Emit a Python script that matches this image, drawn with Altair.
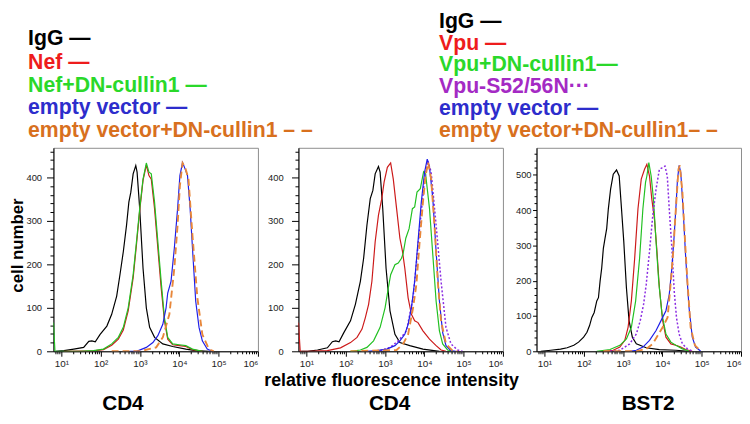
import altair as alt
import pandas as pd

# ---------------- data (intensity, cell number) ----------------
# Panel 1 : CD4 / Nef
p1_igg_x = [7.2, 11.7, 20.8, 37, 50, 60, 73, 97, 144, 191, 256, 310, 377, 456, 522, 586, 671, 783, 845, 986, 1197, 1452, 1762, 2350, 3811, 6792, 14690, 26180, 56620]
p1_igg_y = [0, 1.5, 5, 9, 23, 24, 22, 39, 58, 85, 127, 176, 229, 290, 343, 366, 408, 427, 412, 328, 191, 100, 55, 32, 17, 11, 5, 1.5, 0]
p1_nef_x = [11.7, 66, 118, 191, 282, 377, 502, 671, 815, 986, 1197, 1452, 1694, 1941, 2350, 2851, 3459, 4198, 5082, 6792, 10000, 14690, 21630, 38550]
p1_nef_y = [0, 1, 4, 14, 28, 49, 93, 169, 245, 324, 393, 428, 404, 396, 328, 237, 146, 70, 28, 15, 13, 11, 4, 0]
p1_nefdn_x = [6.31, 6.9, 11.7, 30.7, 66, 118, 191, 282, 377, 502, 671, 815, 986, 1197, 1452, 1694, 1941, 2350, 2851, 3459, 4198, 5082, 6792, 10000, 14690, 21630, 38550]
p1_nefdn_y = [66, 0, 0, 0, 1.5, 5, 17, 32, 55, 100, 176, 252, 328, 396, 433, 412, 408, 343, 252, 161, 77, 32, 17, 15, 13, 5, 0]
p1_ev_x = [553, 815, 1452, 2134, 2851, 3811, 4613, 5082, 6166, 7482, 9057, 10370, 12110, 14130, 16180, 18880, 22440, 26180, 31770, 38550, 51400, 68710]
p1_ev_y = [0, 0, 9, 20, 36, 62, 100, 134, 161, 237, 328, 404, 434, 419, 404, 328, 214, 115, 55, 24, 5, 0]
p1_evdn_x = [191, 986, 2588, 3811, 5598, 7482, 9057, 10370, 12110, 14130, 17140, 21630, 28840, 38550, 56620, 75680]
p1_evdn_y = [0, 0, 9, 32, 85, 191, 290, 381, 433, 423, 396, 267, 123, 39, 5, 0]

# Panel 2 : CD4 / Vpu
p2_igg_x = [7.4, 10.8, 19.3, 34.4, 46, 56, 68, 90, 133, 177, 237, 287, 348, 423, 493, 564, 684, 753, 879, 1067, 1343, 1795, 2399, 4276, 9247, 24270]
p2_igg_y = [0, 0, 3, 8, 22, 24, 22, 43, 70, 108, 161, 214, 290, 351, 370, 408, 425, 412, 328, 191, 93, 39, 20, 13, 5, 0]
p2_vpu_x = [6.31, 7.0, 10.8, 34.4, 74, 133, 195, 261, 316, 384, 466, 564, 684, 830, 951, 1151, 1396, 1629, 1977, 2399, 2799, 3199, 3882, 4710, 5702, 6918, 9247, 13580, 20000, 26730, 35650]
p2_vpu_y = [66, 0, 0, 1.5, 8, 20, 32, 51, 77, 108, 161, 252, 313, 351, 389, 423, 433, 396, 328, 260, 229, 191, 123, 85, 70, 66, 47, 28, 13, 3, 0]
p2_vpudn_x = [133, 237, 348, 513, 753, 1007, 1219, 1396, 1795, 2178, 2636, 2904, 3388, 4111, 4989, 5702, 6531, 7925, 9616, 10790, 13580, 16480, 20000, 24270, 29380, 39270, 52480]
p2_vpudn_y = [0, 3, 9, 24, 55, 100, 146, 176, 199, 203, 214, 225, 260, 282, 328, 332, 366, 374, 413, 408, 328, 222, 115, 47, 17, 3, 0]
p2_mut_x = [753, 1343, 2178, 3524, 5188, 7621, 10180, 12360, 14960, 20000, 26730, 35650, 47640, 69980, 93540]
p2_mut_y = [1.5, 9, 24, 47, 123, 282, 396, 438, 412, 290, 161, 55, 17, 3, 0]
p2_ev_x = [348, 621, 1109, 1795, 2399, 3199, 3882, 4710, 5702, 6918, 8395, 10180, 11890, 13580, 16480, 20000, 24270, 29380, 35650, 47640, 63530]
p2_ev_y = [0, 1.5, 5, 13, 24, 39, 62, 100, 161, 252, 343, 412, 442, 423, 351, 229, 115, 43, 13, 1.5, 0]
p2_evdn_x = [133, 1977, 2904, 3882, 5188, 6281, 7621, 9247, 10790, 12590, 14960, 18160, 22030, 26730, 35650, 52480, 69980]
p2_evdn_y = [0, 3, 17, 39, 100, 153, 252, 343, 404, 434, 396, 290, 161, 70, 17, 1.5, 0]

# Panel 3 : BST2 / Vpu
p3_igg_x = [8.1, 14.5, 25.8, 37.9, 56, 74, 99.5, 121, 141, 161, 185, 215, 237, 261, 287, 316, 348, 384, 423, 483, 564, 684, 798, 914, 1045, 1219, 1422, 1726, 2178, 3882, 8395, 22030, 47640]
p3_igg_y = [0, 3, 6, 10, 17, 26, 40, 54, 73, 96, 110, 143, 152, 199, 236, 292, 320, 348, 404, 460, 502, 514, 497, 404, 311, 180, 87, 40, 21, 10, 5, 3, 0]
p3_vpu_x = [316, 564, 830, 1109, 1343, 1629, 1977, 2399, 2904, 3524, 4036, 4710, 5383, 6281, 7194, 8395, 10180, 12330, 16480, 22030, 29380, 39270, 57680]
p3_vpu_y = [0, 3, 12, 31, 68, 143, 264, 404, 488, 516, 530, 497, 432, 376, 292, 180, 87, 40, 21, 17, 12, 5, 0]
p3_vpudn_x = [215, 466, 830, 1219, 1629, 2094, 2636, 3199, 3733, 4036, 4529, 5188, 5929, 6918, 8072, 9795, 12330, 16480, 22030, 32360, 47640]
p3_vpudn_y = [0, 5, 17, 35, 68, 143, 264, 404, 479, 497, 535, 497, 432, 311, 199, 105, 49, 26, 17, 7, 1]
p3_mut_x = [466, 830, 1479, 2178, 2742, 3327, 3882, 4710, 5702, 6918, 8395, 9795, 11640, 13340, 14960, 17460, 20000, 22860, 26670, 32360, 43250, 57680]
p3_mut_y = [0, 3, 21, 49, 87, 133, 189, 283, 385, 460, 516, 520, 525, 497, 404, 292, 171, 96, 49, 21, 7, 1]
p3_ev_x = [1479, 2178, 3199, 4710, 6918, 9247, 12330, 14960, 17460, 20000, 22030, 24270, 26730, 29380, 33650, 39270, 47640, 57680, 69980, 93540]
p3_ev_y = [0, 3, 12, 31, 59, 87, 115, 161, 236, 329, 404, 488, 527, 507, 404, 264, 124, 40, 12, 1]
p3_evdn_x = [316, 2178, 3882, 5702, 7621, 10180, 13580, 16480, 18880, 22030, 25700, 27730, 32360, 37760, 43250, 52360, 67300, 93540]
p3_evdn_y = [0, 0, 7, 21, 45, 68, 96, 199, 283, 404, 516, 527, 451, 311, 199, 68, 17, 1]

# axis ticks / labels
x_major = [10, 100, 1000, 10000, 100000, 1000000]
x_major_labels = ["10\u00b9", "10\u00b2", "10\u00b3", "10\u2074", "10\u2075", "10\u2076"]
x_minor_mult = [2, 3, 4, 5, 6, 7, 8, 9]
y_ticks_12 = list(range(0, 461, 20))
y_ticks_3 = list(range(0, 561, 20))

# legend / title texts
legend1 = ["IgG \u2014", "Nef \u2014", "Nef+DN-cullin1 \u2014", "empty vector \u2014", "empty vector+DN-cullin1 \u2013 \u2013"]
legend2 = ["IgG \u2014", "Vpu \u2014", "Vpu+DN-cullin1\u2014", "Vpu-S52/56N\u00b7\u00b7\u00b7", "empty vector \u2014", "empty vector+DN-cullin1\u2013 \u2013"]
panel_titles = ["CD4", "CD4", "BST2"]
x_title = "relative fluorescence intensity"
y_title = "cell number"

# ---------------- styles ----------------
FONT = "Liberation Sans"
LEG_SIZE = 21.5
LINE = {
    "igg": dict(color="#000000", w=1.2),
    "red": dict(color="#cc1a1a", w=1.2),
    "green": dict(color="#22c022", w=1.2),
    "blue": dict(color="#1f1fe8", w=1.2),
    "orange": dict(color="#e8873a", w=1.9, dash=[7, 4]),
    "purple": dict(color="#8a2be2", w=1.5, dash=[2, 2]),
}
LEG_COL1 = ["#000000", "#ee1c1c", "#2ad82a", "#2d2dcc", "#d8701e"]
LEG_COL2 = ["#000000", "#ee1c1c", "#2ad82a", "#a42ac4", "#2d2dcc", "#d8701e"]

W, H = 207, 206

x_vals = [7, 8, 9] + [m * d for d in x_major[:-1] for m in [1] + x_minor_mult] + [x_major[-1]]
lab_expr = ""
for v, l in zip(x_major, x_major_labels):
    lab_expr += f"datum.value == {v} ? '{l}' : "
lab_expr += "''"
major_test = "indexof([" + ",".join(str(v) for v in x_major) + "], datum.value) >= 0"

xaxis = alt.Axis(
    title=None, values=x_vals, labelExpr=lab_expr, labelOverlap=False, labelFlush=False,
    tickSize={"condition": {"test": major_test, "value": 5}, "value": 2.5},
    labelAlign={"condition": {"test": f"datum.value == {x_major[-1]}", "value": "right"}, "value": "center"},
    labelPadding=2, labelFontSize=10, grid=False,
)
xscale = alt.Scale(type="log", domain=[6.31, 1000000], nice=False)


def yaxis(vals, major, minor, pad):
    return alt.Axis(
        title=None, values=vals, labelExpr="datum.value % 100 == 0 ? datum.label : ''",
        labelOverlap=False, labelFlush=False, grid=False,
        tickSize={"condition": {"test": "datum.value % 100 == 0", "value": major}, "value": minor},
        labelPadding=pad, labelFontSize=9.5,
    )


def line(xs, ys, style, ydom, yax):
    df = pd.DataFrame({"x": xs, "y": ys})
    kw = dict(color=style["color"], strokeWidth=style["w"], clip=True)
    if "dash" in style:
        kw["strokeDash"] = style["dash"]
    return alt.Chart(df).mark_line(**kw).encode(
        x=alt.X("x:Q", scale=xscale, axis=xaxis),
        y=alt.Y("y:Q", scale=alt.Scale(domain=ydom, nice=False, zero=True), axis=yax),
    )


def text(label, px, py, color="#000000", size=LEG_SIZE, angle=0, align="left"):
    df = pd.DataFrame({"t": [label]})
    kw = dict(font=FONT, fontWeight="bold", fontSize=size, align=align, baseline="middle")
    if angle:
        kw["angle"] = angle
    return alt.Chart(df).mark_text(**kw).encode(
        x=alt.value(px), y=alt.value(py), text="t:N", color=alt.value(color)
    )


# ---------------- panel 1 ----------------
yd12 = [0, 468]
ya1 = yaxis(y_ticks_12, 7, 3.5, 5)
p1_layers = [
    line(p1_igg_x, p1_igg_y, LINE["igg"], yd12, ya1),
    line(p1_nef_x, p1_nef_y, LINE["red"], yd12, ya1),
    line(p1_nefdn_x, p1_nefdn_y, LINE["green"], yd12, ya1),
    line(p1_ev_x, p1_ev_y, LINE["blue"], yd12, ya1),
    line(p1_evdn_x, p1_evdn_y, LINE["orange"], yd12, ya1),
]
leg1_y = [-110, -86, -62, -40, -17]
for lab, col, yy in zip(legend1, LEG_COL1, leg1_y):
    p1_layers.append(text(lab, -25.7, yy, col))
p1_layers.append(text(y_title, -36, 99, size=17, angle=270, align="center"))
p1_layers.append(text(panel_titles[0], 70.3, 259.5, size=21, align="center"))
p1 = alt.layer(*p1_layers).properties(width=W, height=H)

# ---------------- panel 2 ----------------
ya2 = yaxis(y_ticks_12, 7, 3.5, 8.5)
p2_layers = [
    line(p2_igg_x, p2_igg_y, LINE["igg"], yd12, ya2),
    line(p2_vpu_x, p2_vpu_y, LINE["red"], yd12, ya2),
    line(p2_vpudn_x, p2_vpudn_y, LINE["green"], yd12, ya2),
    line(p2_mut_x, p2_mut_y, LINE["purple"], yd12, ya2),
    line(p2_ev_x, p2_ev_y, LINE["blue"], yd12, ya2),
    line(p2_evdn_x, p2_evdn_y, LINE["orange"], yd12, ya2),
]
leg2_y = [-127.25, -105.25, -83.25, -61.25, -39.25, -17.25]
for lab, col, yy in zip(legend2, LEG_COL2, leg2_y):
    p2_layers.append(text(lab, 142.3, yy, col))
p2_layers.append(text(x_title, 94.3, 236, size=18, align="center"))
p2_layers.append(text(panel_titles[1], 92.3, 259.5, size=21, align="center"))
p2 = alt.layer(*p2_layers).properties(width=W, height=H)

# ---------------- panel 3 ----------------
yd3 = [0, 577]
ya3 = yaxis(y_ticks_3, 4, 2.5, 1.5)
p3_layers = [
    line(p3_igg_x, p3_igg_y, LINE["igg"], yd3, ya3),
    line(p3_vpu_x, p3_vpu_y, LINE["red"], yd3, ya3),
    line(p3_vpudn_x, p3_vpudn_y, LINE["green"], yd3, ya3),
    line(p3_mut_x, p3_mut_y, LINE["purple"], yd3, ya3),
    line(p3_ev_x, p3_ev_y, LINE["blue"], yd3, ya3),
    line(p3_evdn_x, p3_evdn_y, LINE["orange"], yd3, ya3),
]
p3_layers.append(text(panel_titles[2], 113, 259.5, size=21, align="center"))
p3 = alt.layer(*p3_layers).properties(width=W, height=H)

inner = alt.hconcat(p2, p3, spacing=34, bounds="flush")
chart = alt.hconcat(p1, inner, spacing=41, bounds="flush", padding=0).configure_view(
    stroke="#8c8c8c", strokeWidth=1
).configure_axis(
    domainColor="#000000", domainWidth=1, tickColor="#000000", tickWidth=1,
    labelFont=FONT, labelColor="#222222",
)

chart.save("out.html", embed_options={"renderer": "svg", "actions": False})
